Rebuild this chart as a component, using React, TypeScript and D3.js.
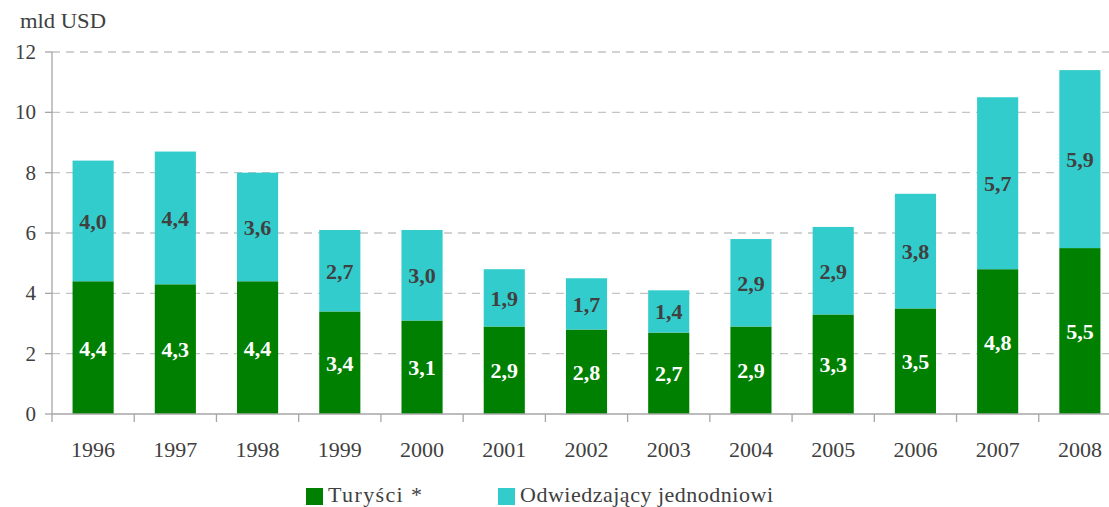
import { scaleBand, scaleLinear } from 'd3';

const years = ['1996', '1997', '1998', '1999', '2000', '2001', '2002', '2003', '2004', '2005', '2006', '2007', '2008'];
const tourists = [4.4, 4.3, 4.4, 3.4, 3.1, 2.9, 2.8, 2.7, 2.9, 3.3, 3.5, 4.8, 5.5];
const dayVisitors = [4.0, 4.4, 3.6, 2.7, 3.0, 1.9, 1.7, 1.4, 2.9, 2.9, 3.8, 5.7, 5.9];
const yTicks = [0, 2, 4, 6, 8, 10, 12];

const width = 1109;
const height = 507;
const plot = { left: 52, right: 1121, top: 52, bottom: 414 };

const green = '#008000';
const cyan = '#33CCCC';
const axisGray = '#a6a6a6';
const textGray = '#404040';
const font = 'Liberation Serif, Times New Roman, serif';

const fmt = (v: number) => v.toFixed(1).replace('.', ',');

export default function App() {
  const x = scaleBand<string>().domain(years).range([plot.left, plot.right]).padding(0);
  const y = scaleLinear().domain([0, 12]).range([plot.bottom, plot.top]);
  const bw = x.bandwidth();
  const barW = bw * 0.5;

  return (
    <svg width={width} height={height} fontFamily={font} style={{ position: 'absolute', left: 0, top: 0 }}>
      <rect width={width} height={height} fill="#ffffff" />

      <text x={20} y={28} fontFamily={font} fontSize={22} textLength={86} lengthAdjust="spacingAndGlyphs" fill={textGray}>mld USD</text>

      {yTicks.map(t => (
        <g key={t}>
          {t > 0 && (
            <line x1={plot.left} x2={width} y1={y(t)} y2={y(t)} stroke="#c4c4c4" strokeWidth={1.3} strokeDasharray="8 6" />
          )}
          <line x1={plot.left - 7} x2={plot.left} y1={y(t)} y2={y(t)} stroke={axisGray} strokeWidth={1.3} />
          <text x={36} y={y(t) + 7} textAnchor="end" fontFamily={font} fontSize={21} fill={textGray}>{t}</text>
        </g>
      ))}

      {years.map((yr, i) => {
        const bx = (x(yr) ?? 0) + (bw - barW) / 2;
        const yT = y(tourists[i]);
        const yD = y(tourists[i] + dayVisitors[i]);
        const cx = (x(yr) ?? 0) + bw / 2;
        return (
          <g key={yr}>
            <rect x={bx} y={yT} width={barW} height={plot.bottom - yT} fill={green} />
            <rect x={bx} y={yD} width={barW} height={yT - yD} fill={cyan} />
            <text x={cx} y={(yT + plot.bottom) / 2 + 8} textAnchor="middle" fontFamily={font} fontSize={22} fontWeight="bold" fill="#ffffff">{fmt(tourists[i])}</text>
            <text x={cx} y={(yD + yT) / 2 + 8} textAnchor="middle" fontFamily={font} fontSize={22} fontWeight="bold" fill={textGray}>{fmt(dayVisitors[i])}</text>
            <text x={cx} y={457} textAnchor="middle" fontFamily={font} fontSize={22} fill={textGray}>{yr}</text>
          </g>
        );
      })}

      <line x1={plot.left} x2={plot.left} y1={plot.top} y2={plot.bottom} stroke={axisGray} strokeWidth={1.3} />
      <line x1={plot.left} x2={width} y1={plot.bottom} y2={plot.bottom} stroke={axisGray} strokeWidth={1.3} />
      {years.map(yr => (
        <line key={yr} x1={x(yr) ?? 0} x2={x(yr) ?? 0} y1={plot.bottom} y2={plot.bottom + 8} stroke={axisGray} strokeWidth={1.3} />
      ))}

      <rect x={306} y={488} width={17} height={17} fill={green} />
      <text x={328} y={502} fontFamily={font} fontSize={22} textLength={94} lengthAdjust="spacing" fill={textGray}>Turyści *</text>
      <rect x={498} y={488} width={17} height={17} fill={cyan} />
      <text x={520} y={502} fontFamily={font} fontSize={22} textLength={253} lengthAdjust="spacing" fill={textGray}>Odwiedzający jednodniowi</text>
    </svg>
  );
}
